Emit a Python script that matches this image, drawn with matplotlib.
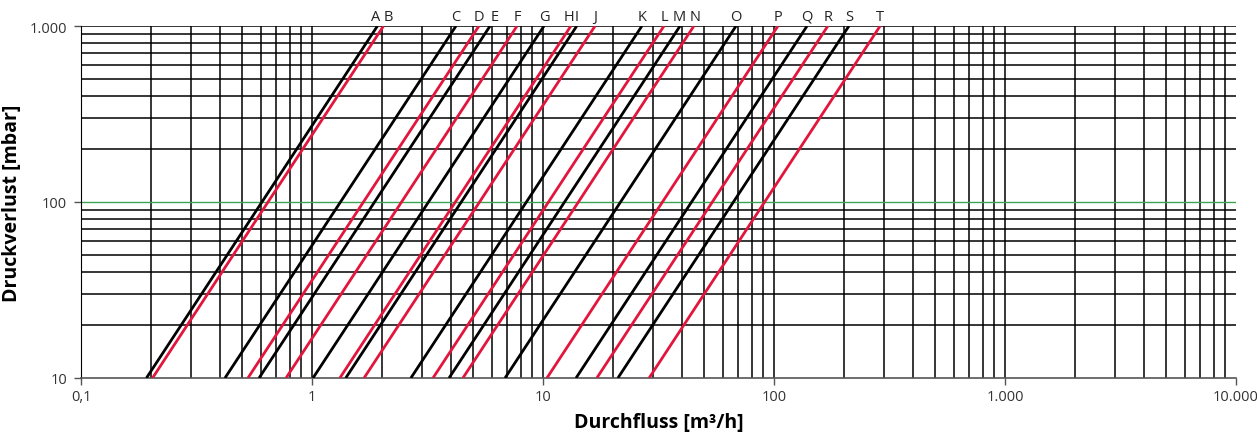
import numpy as np
import matplotlib.pyplot as plt
import matplotlib.transforms as mtransforms
from matplotlib.ticker import FixedLocator, NullFormatter

# Kennlinien: Durchfluss [m3/h] bei 1 bar (= Kv), Druckverlust ~ Q^2
labels = list("ABCDEFGHIJKLMNOPQRST")
kv = [1.92, 2.04, 4.2, 5.28, 5.9, 7.72, 10.1, 13.2, 14.0, 16.8,
      26.8, 33.4, 39.2, 45.0, 68.5, 104, 139, 171, 211, 288]
colors = ['black' if i % 2 == 0 else '#e2163d' for i in range(len(labels))]

dp_range = [10, 1000]          # mbar
x_major = [0.1, 1, 10, 100, 1000, 10000]
x_major_labels = ['0,1', '1', '10', '100', '1.000', '10.000']
y_major = [10, 100, 1000]
y_major_labels = ['10', '100', '1.000']

# small nudges (pixels) so neighbouring letters don't collide
label_nudge = {'A': -2, 'B': 5, 'E': 5, 'H': -2, 'M': -1, 'N': 1}

plt.rcParams['font.family'] = ['Open Sans', 'DejaVu Sans']

fig = plt.figure(figsize=(12.57, 4.35), dpi=100)
ax = fig.add_axes([81 / 1257, 1 - 379 / 435, (1236 - 81) / 1257, (379 - 27) / 435])
ax.set_xscale('log')
ax.set_yscale('log')
ax.set_xlim(0.1, 10000)
ax.set_ylim(10, 1000)

# grid
xs_grid = [m * 10.0 ** e for e in range(-1, 4) for m in range(1, 10)][1:]
ys_grid = [m * 10.0 ** e for e in range(1, 3) for m in range(1, 10)][1:] + [1000]
for xv in xs_grid:
    ax.axvline(xv, color='black', lw=1.1, zorder=1)
for yv in ys_grid:
    if yv == 100:
        ax.axhline(yv, color='#3aa655', lw=1.0, zorder=1)
    else:
        ax.axhline(yv, color='black', lw=1.1, zorder=1)

# curves
dp = np.array(dp_range, dtype=float)
for lab, k, c in zip(labels, kv, colors):
    q = k * np.sqrt(dp / 1000.0)
    ax.plot(q, dp, color=c, lw=2.0, zorder=3, solid_capstyle='butt')
    tr = ax.transData + mtransforms.ScaledTranslation(label_nudge.get(lab, 0) / 100, 0, fig.dpi_scale_trans)
    ax.text(k, 1030, lab, ha='center', va='bottom', fontsize=10.5, color='#222222',
            transform=tr, clip_on=False)

for s in ['top', 'right']:
    ax.spines[s].set_visible(False)
ax.spines['left'].set_color('black')
ax.spines['bottom'].set_color('#555555')
ax.spines['bottom'].set_linewidth(1.2)

ax.xaxis.set_major_locator(FixedLocator(x_major))
ax.xaxis.set_minor_locator(FixedLocator([]))
ax.yaxis.set_major_locator(FixedLocator(y_major))
ax.yaxis.set_minor_locator(FixedLocator([]))
ax.set_xticklabels(x_major_labels)
ax.set_yticklabels(y_major_labels)
ax.xaxis.set_minor_formatter(NullFormatter())
ax.yaxis.set_minor_formatter(NullFormatter())
ax.tick_params(axis='both', which='major', length=5, width=1, color='#555555',
               labelsize=10.5, labelcolor='#333333')
ax.tick_params(axis='x', pad=3)
ax.tick_params(axis='y', pad=5)

ax.set_xlabel('Durchfluss [m³/h]', fontsize=14, fontweight='bold', labelpad=6)
ax.set_ylabel('Druckverlust [mbar]', fontsize=14, fontweight='bold')
ax.yaxis.set_label_coords((22 - 81) / 1155, 0.5)

fig.savefig('out.png', dpi=100)
